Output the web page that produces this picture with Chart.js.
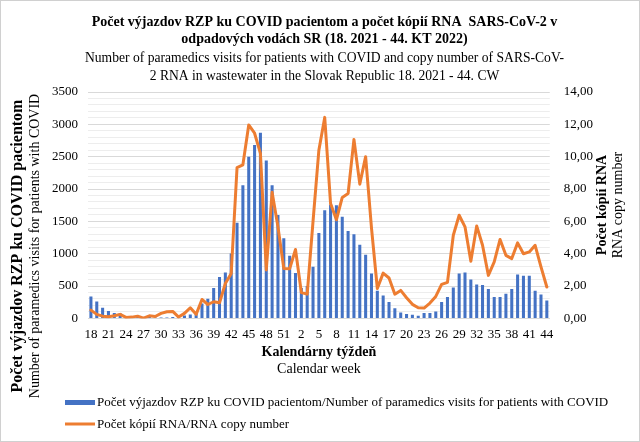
<!DOCTYPE html>
<html>
<head>
<meta charset="utf-8">
<script src="https://cdn.jsdelivr.net/npm/chart.js@4.4.1/dist/chart.umd.min.js"></script>
<style>
  html, body { margin: 0; padding: 0; background: #fff; }
  #wrap { width: 640px; height: 442px; position: relative; }
</style>
</head>
<body>
<div id="wrap"><canvas id="c" width="640" height="442"></canvas></div>
<script>
// Calendar weeks: 18–52 of 2021, 1–44 of 2022
const weeks = [
  '18','19','20','21','22','23','24','25','26','27','28','29','30','31','32','33','34','35','36','37',
  '38','39','40','41','42','43','44','45','46','47','48','49','50','51','52',
  '1','2','3','4','5','6','7','8','9','10','11','12','13','14','15','16','17','18','19','20',
  '21','22','23','24','25','26','27','28','29','30','31','32','33','34','35','36','37','38','39','40',
  '41','42','43','44'
];
// Number of paramedics visits for patients with COVID (left axis)
const visits = [
  340, 260, 165, 115, 85, 80, 35, 30, 30, 20, 20, 15, 15, 15, 20, 30, 45, 60, 80, 230,
  305, 470, 640, 710, 1005, 1480, 2060, 2500, 2680, 2870, 2440, 2060, 1600, 1240, 970,
  700, 470, 500, 800, 1320, 1670, 1760, 1750, 1570, 1350, 1300, 1140, 985, 695, 427, 355, 255, 155, 93, 67,
  57, 41, 82, 82, 108, 252, 330, 479, 695, 710, 602, 525, 515, 453, 330, 330, 381, 453, 680, 659,
  659, 427, 371, 278
];
// RNA copy number (right axis)
const rna = [
  0.51, 0.25, 0.14, 0.10, 0.16, 0.25, 0.06, 0.08, 0.14, 0.02, 0.16, 0.12, 0.31, 0.41, 0.43, 0.08, 0.31, 0.66, 0.25, 1.17,
  0.86, 1.03, 0.97, 2.16, 2.78, 9.33, 9.50, 11.96, 11.45, 10.20, 3.00, 7.80, 5.66, 3.09, 3.07,
  4.26, 1.60, 1.50, 6.00, 10.40, 12.43, 7.10, 6.10, 7.48, 7.72, 11.07, 8.30, 10.00, 5.60, 1.85, 2.80, 2.50, 1.50, 1.73, 1.28,
  0.87, 0.66, 0.64, 0.95, 1.36, 2.10, 2.23, 5.14, 6.38, 5.66, 3.53, 5.72, 4.52, 2.66, 3.49, 4.88, 3.90, 3.70, 4.67, 4.00,
  4.11, 4.52, 3.18, 1.94
];
const leftTicks = [0, 500, 1000, 1500, 2000, 2500, 3000, 3500];
const rightTicks = [0, 2, 4, 6, 8, 10, 12, 14];

const titleLines = ['Počet výjazdov RZP ku COVID pacientom a počet kópií RNA  SARS-CoV-2 v', 'odpadových vodách SR (18. 2021 - 44. KT 2022)'];
const subtitleLines = ['Number of paramedics visits for patients with COVID and copy number of SARS-CoV-', '2 RNA in wastewater in the Slovak Republic 18. 2021 - 44. CW'];
const leftTitle = ['Počet výjazdov RZP ku COVID pacientom', 'Number of paramedics visits for patients with COVID'];
const rightTitle = ['Počet kópií RNA', 'RNA copy number'];
const xTitle = ['Kalendárny týždeň', 'Calendar week'];
const legendLabels = ['Počet výjazdov RZP ku COVID pacientom/Number of paramedics visits for patients with COVID', 'Počet kópií RNA/RNA copy number'];

const FAM = '"Liberation Serif", "Times New Roman", Times, serif';
const BLUE = '#4472C4';
const ORANGE = '#ED7D31';

const decor = {
  id: 'decor',
  beforeDraw(chart) {
    const ctx = chart.ctx;
    ctx.save();
    ctx.fillStyle = '#ffffff';
    ctx.fillRect(0, 0, chart.width, chart.height);
    ctx.restore();
  },
  afterDraw(chart) {
    const ctx = chart.ctx;
    const ca = chart.chartArea;
    ctx.save();
    ctx.fillStyle = '#000';
    ctx.textAlign = 'center';
    ctx.textBaseline = 'middle';
    // left axis title (rotated)
    const lyc = 246;
    ctx.save(); ctx.translate(18, lyc); ctx.rotate(-Math.PI / 2);
    ctx.font = 'bold 16px ' + FAM; ctx.fillText(leftTitle[0], 0, 0);
    ctx.restore();
    ctx.save(); ctx.translate(35, lyc); ctx.rotate(-Math.PI / 2);
    ctx.font = '14px ' + FAM; ctx.fillText(leftTitle[1], 0, 0);
    ctx.restore();
    // right axis title
    const ryc = 205;
    ctx.save(); ctx.translate(602, ryc); ctx.rotate(-Math.PI / 2);
    ctx.font = 'bold 14px ' + FAM; ctx.fillText(rightTitle[0], 0, 0);
    ctx.restore();
    ctx.save(); ctx.translate(618, ryc); ctx.rotate(-Math.PI / 2);
    ctx.font = '14px ' + FAM; ctx.fillText(rightTitle[1], 0, 0);
    ctx.restore();
    // x axis title
    const xc = (ca.left + ca.right) / 2;
    ctx.font = 'bold 14px ' + FAM; ctx.fillText(xTitle[0], xc, 352);
    ctx.font = '14px ' + FAM; ctx.fillText(xTitle[1], xc, 369);
    // legend
    ctx.textAlign = 'left';
    ctx.font = '13px ' + FAM;
    ctx.fillStyle = BLUE;
    ctx.fillRect(65, 400, 30, 5);
    ctx.fillStyle = '#000';
    ctx.fillText(legendLabels[0], 97, 403);
    ctx.strokeStyle = ORANGE; ctx.lineWidth = 3;
    ctx.beginPath(); ctx.moveTo(65, 424); ctx.lineTo(95, 424); ctx.stroke();
    ctx.fillText(legendLabels[1], 97, 425);
    // outer frame
    ctx.strokeStyle = '#d0d0d0'; ctx.lineWidth = 1;
    ctx.strokeRect(0.5, 0.5, chart.width - 1, chart.height - 1);
    ctx.restore();
  }
};

new Chart(document.getElementById('c'), {
  type: 'bar',
  data: {
    labels: weeks,
    datasets: [
      {
        type: 'line',
        label: legendLabels[1],
        data: rna,
        yAxisID: 'y1',
        borderColor: ORANGE,
        backgroundColor: ORANGE,
        borderWidth: 3,
        pointRadius: 0,
        tension: 0,
        borderJoinStyle: 'round',
        borderCapStyle: 'round',
        order: 0
      },
      {
        type: 'bar',
        label: legendLabels[0],
        data: visits,
        yAxisID: 'y',
        backgroundColor: BLUE,
        barPercentage: 0.52,
        categoryPercentage: 1.0,
        order: 1
      }
    ]
  },
  options: {
    responsive: false,
    animation: false,
    devicePixelRatio: 1,
    layout: { padding: { left: 42, right: 33, top: 0, bottom: 92 } },
    plugins: {
      legend: { display: false },
      tooltip: { enabled: false },
      title: {
        display: true,
        text: titleLines,
        color: '#000',
        font: { family: FAM, size: 14, weight: 'bold', lineHeight: 17 / 14 },
        padding: { top: 14, bottom: 0 }
      },
      subtitle: {
        display: true,
        text: subtitleLines,
        color: '#000',
        font: { family: FAM, size: 13.6, weight: 'normal', lineHeight: 18 / 13.6 },
        padding: { top: 1, bottom: 7 }
      }
    },
    scales: {
      x: {
        grid: { display: false, drawTicks: false },
        border: { display: true, color: '#d9d9d9' },
        ticks: {
          autoSkip: false, maxRotation: 0, minRotation: 0, padding: 8,
          color: '#000', font: { family: FAM, size: 13 },
          callback: (v, i) => (i % 3 === 0 ? weeks[i] : '')
        }
      },
      y: {
        position: 'left',
        min: 0, max: 3500,
        grid: {
          drawTicks: false,
          color: (c) => (leftTicks.includes(c.tick.value) ? '#d9d9d9' : '#ededed'),
          lineWidth: 1
        },
        border: { display: false },
        ticks: {
          stepSize: 100, maxTicksLimit: 40, autoSkip: false, padding: 10,
          color: '#000', font: { family: FAM, size: 13 },
          callback: (v) => (leftTicks.includes(v) ? String(v) : '')
        }
      },
      y1: {
        position: 'right',
        min: 0, max: 14,
        grid: { display: false, drawTicks: false },
        border: { display: false },
        ticks: {
          stepSize: 2, padding: 14,
          color: '#000', font: { family: FAM, size: 13 },
          callback: (v) => (rightTicks.includes(v) ? v.toFixed(2).replace('.', ',') : '')
        }
      }
    }
  },
  plugins: [decor]
});
</script>
</body>
</html>
